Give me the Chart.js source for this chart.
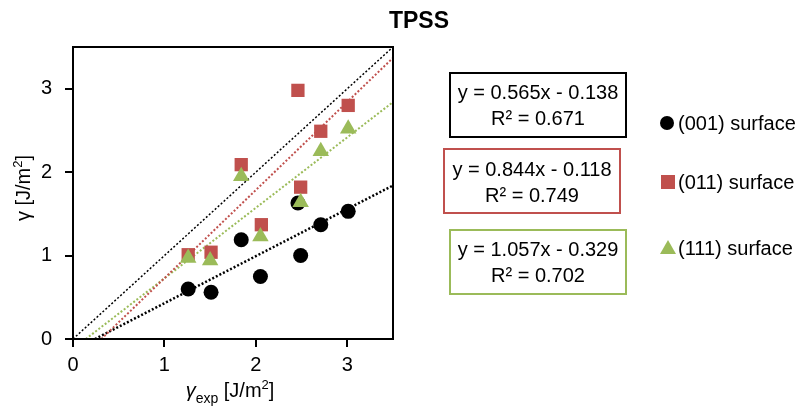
<!DOCTYPE html>
<html>
<head>
<meta charset="utf-8">
<script src="https://cdn.jsdelivr.net/npm/chart.js@4.4.1/dist/chart.umd.min.js"></script>
<style>
  html, body { margin: 0; padding: 0; background: #fff; }
  #wrap { width: 797px; height: 407px; position: relative; }
</style>
</head>
<body>
<div id="wrap"><canvas id="myChart"></canvas></div>
<script>
const FONT = "'Liberation Sans', Arial, sans-serif";
const RED = '#C0504D';
const GREEN = '#9BBB59';

// measured points, gamma_exp vs gamma (J/m2)
const xExp001 = [1.26, 1.51, 1.84, 2.05, 2.46, 2.49, 2.71, 3.01];
const y001 = [0.60, 0.56, 1.19, 0.75, 1.63, 1.00, 1.37, 1.53];
const xExp011 = [1.26, 1.51, 1.84, 2.06, 2.46, 2.49, 2.71, 3.01];
const y011 = [1.01, 1.04, 2.09, 1.37, 2.98, 1.82, 2.49, 2.80];
const xExp111 = [1.26, 1.50, 1.84, 2.05, 2.49, 2.71, 3.01];
const y111 = [0.97, 0.94, 1.95, 1.23, 1.64, 2.25, 2.52];

// dotted lines, end points
const trendX001 = [0.24, 3.5], trendY001 = [0, 1.84];
const trendX011 = [0.31, 3.5], trendY011 = [0, 3.37];
const trendX111 = [0.14, 3.5], trendY111 = [0, 2.84];
const diagX = [0, 3.5], diagY = [0, 3.5];

const xTicks = [0, 1, 2, 3];
const yTicks = [0, 1, 2, 3];

const seriesNames = ['(001) surface', '(011) surface', '(111) surface'];
const eqLines = [
    ['y = 0.565x - 0.138', 'R\u00b2 = 0.671'],
    ['y = 0.844x - 0.118', 'R\u00b2 = 0.749'],
    ['y = 1.057x - 0.329', 'R\u00b2 = 0.702']
];

function pts(xs, ys) {
    return xs.map((x, i) => ({ x: x, y: ys[i] }));
}

function dotted(xs, ys, color, width) {
    return {
        type: 'line',
        data: pts(xs, ys),
        borderColor: color,
        borderWidth: width,
        borderDash: [2, 2],
        pointRadius: 0,
        fill: false,
        order: 5
    };
}

// draw a run of text pieces: [text, font, yOffset]
function drawPieces(ctx, pieces, x, y) {
    let total = 0;
    pieces.forEach(p => { ctx.font = p[1]; total += ctx.measureText(p[0]).width; });
    let cx = x - total / 2;
    pieces.forEach(p => {
        ctx.font = p[1];
        ctx.fillText(p[0], cx, y + p[2]);
        cx += ctx.measureText(p[0]).width;
    });
}

const extras = {
    id: 'extras',
    afterDraw(chart) {
        const ctx = chart.ctx;
        const a = chart.chartArea;
        ctx.save();
        // plot frame
        ctx.strokeStyle = '#000';
        ctx.lineWidth = 2;
        ctx.strokeRect(a.left, a.top, a.right - a.left, a.bottom - a.top);

        ctx.fillStyle = '#000';
        ctx.textBaseline = 'alphabetic';
        ctx.textAlign = 'left';

        // title
        ctx.font = 'bold 23px ' + FONT;
        ctx.textAlign = 'center';
        ctx.fillText('TPSS', 419, 28);
        ctx.textAlign = 'left';

        // x axis title
        drawPieces(ctx, [
            ['\u03b3', 'italic 20px ' + FONT, 0],
            ['exp', '14px ' + FONT, 6],
            [' [J/m', '20px ' + FONT, 0],
            ['2', '13px ' + FONT, -8],
            [']', '20px ' + FONT, 0]
        ], 230, 397);

        // y axis title
        ctx.save();
        ctx.translate(30, 188);
        ctx.rotate(-Math.PI / 2);
        drawPieces(ctx, [
            ['\u03b3 [J/m', '20px ' + FONT, 0],
            ['2', '13px ' + FONT, -8],
            [']', '20px ' + FONT, 0]
        ], 0, 0);
        ctx.restore();

        // equation boxes
        const boxes = [
            { x: 450, y: 73, c: '#000', t1: 99, t2: 125 },
            { x: 444, y: 149, c: RED, t1: 176, t2: 202 },
            { x: 450, y: 230, c: GREEN, t1: 256, t2: 282 }
        ];
        ctx.font = '20px ' + FONT;
        ctx.textAlign = 'center';
        boxes.forEach((b, i) => {
            ctx.strokeStyle = b.c;
            ctx.lineWidth = 2;
            ctx.strokeRect(b.x, b.y, 176, 64);
            ctx.fillStyle = '#000';
            ctx.fillText(eqLines[i][0], b.x + 88, b.t1);
            ctx.fillText(eqLines[i][1], b.x + 88, b.t2);
        });

        // legend
        ctx.textAlign = 'left';
        ctx.textBaseline = 'middle';
        const ly = [123, 182, 248];
        ctx.fillStyle = '#000';
        ctx.beginPath();
        ctx.arc(667, ly[0], 7, 0, Math.PI * 2);
        ctx.fill();
        ctx.fillStyle = RED;
        ctx.fillRect(661, ly[1] - 7, 14, 14);
        ctx.fillStyle = GREEN;
        ctx.beginPath();
        ctx.moveTo(668, ly[2] - 8);
        ctx.lineTo(676, ly[2] + 6);
        ctx.lineTo(660, ly[2] + 6);
        ctx.closePath();
        ctx.fill();
        ctx.fillStyle = '#000';
        ctx.font = '20px ' + FONT;
        seriesNames.forEach((n, i) => ctx.fillText(n, 678, ly[i] + 1));
        ctx.restore();
    }
};

const tickStyle = {
    color: '#000',
    font: { family: FONT, size: 20 }
};

new Chart(document.getElementById('myChart'), {
    type: 'scatter',
    data: {
        datasets: [
            {
                label: seriesNames[0],
                data: pts(xExp001, y001),
                backgroundColor: '#000',
                borderColor: '#000',
                pointStyle: 'circle',
                pointRadius: 7.5,
                pointBorderWidth: 0,
                order: 3
            },
            {
                label: seriesNames[1],
                data: pts(xExp011, y011),
                backgroundColor: RED,
                borderColor: RED,
                pointStyle: 'rect',
                pointRadius: 9.4,
                pointBorderWidth: 0,
                order: 2
            },
            {
                label: seriesNames[2],
                data: pts(xExp111, y111),
                backgroundColor: GREEN,
                borderColor: GREEN,
                pointStyle: 'triangle',
                pointRadius: 9.5,
                pointBorderWidth: 0,
                order: 1
            },
            dotted(diagX, diagY, '#000', 1.5),
            dotted(trendX011, trendY011, RED, 2),
            dotted(trendX111, trendY111, GREEN, 2),
            dotted(trendX001, trendY001, '#000', 2.5)
        ]
    },
    options: {
        responsive: true,
        maintainAspectRatio: false,
        animation: false,
        layout: { padding: { top: 47, right: 404, left: 0, bottom: 0 } },
        plugins: {
            legend: { display: false },
            tooltip: { enabled: false },
            title: { display: false }
        },
        scales: {
            x: {
                type: 'linear',
                min: 0,
                max: 3.5,
                afterBuildTicks: s => { s.ticks = xTicks.map(v => ({ value: v })); },
                afterFit: s => { s.height = 68; },
                grid: { drawOnChartArea: false, drawTicks: true, tickLength: 8, color: '#000', lineWidth: 2 },
                border: { display: true, color: '#000', width: 2 },
                ticks: Object.assign({ padding: 6 }, tickStyle)
            },
            y: {
                type: 'linear',
                min: 0,
                max: 3.5,
                afterBuildTicks: s => { s.ticks = yTicks.map(v => ({ value: v })); },
                afterFit: s => { s.width = 73; },
                grid: { drawOnChartArea: false, drawTicks: true, tickLength: 8, color: '#000', lineWidth: 2 },
                border: { display: true, color: '#000', width: 2 },
                ticks: Object.assign({ padding: 13 }, tickStyle)
            }
        }
    },
    plugins: [extras]
});
</script>
</body>
</html>
